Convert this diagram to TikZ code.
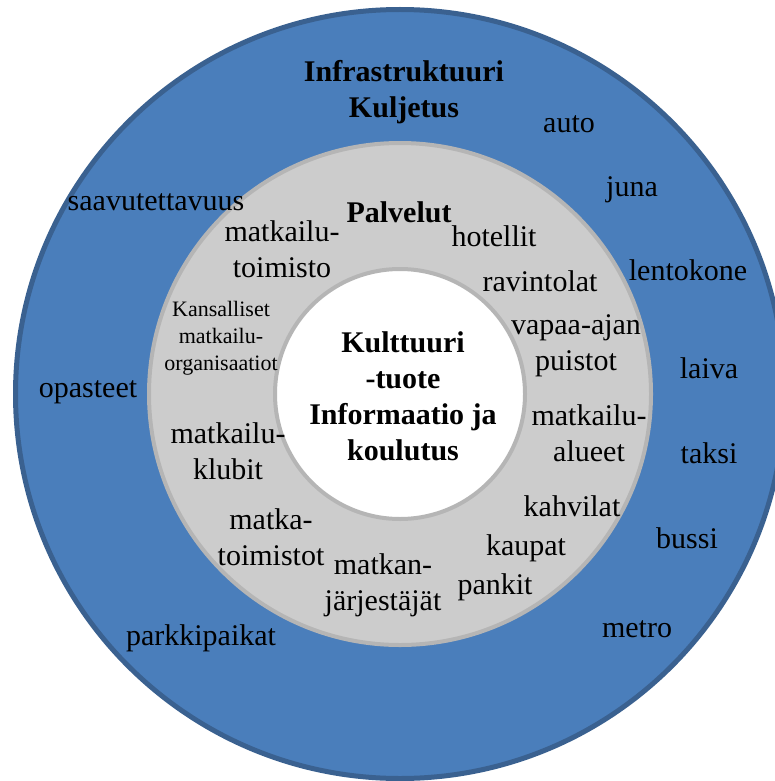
\documentclass[tikz,border=0pt]{standalone}
\usepackage{fontspec}
\setmainfont{Liberation Serif}
\definecolor{outerfill}{HTML}{4A7EBB}
\definecolor{outerline}{HTML}{3A6190}
\definecolor{midfill}{HTML}{CCCCCC}
\definecolor{midline}{HTML}{B5B5B5}
\begin{document}
\begin{tikzpicture}[x=1pt,y=-1pt,
  ring/.style={circle, inner sep=0pt, outer sep=0pt},
  lbl/.style={inner sep=0pt, align=center, font=\fontsize{30}{36}\selectfont},
  bl/.style={inner sep=0pt, align=center, font=\fontsize{30}{36}\selectfont\bfseries},
  sm/.style={inner sep=0pt, align=center, font=\fontsize{22}{27}\selectfont}]
\useasboundingbox (0,0) rectangle (774,781);
\node[ring, draw=outerline, fill=outerfill, line width=5pt, minimum size=769pt] (outer) at (400,394) {};
\node[ring, draw=midline, fill=midfill, line width=4pt, minimum size=502pt] (mid) at (400,394) {};
\node[ring, draw=midline, fill=white, line width=4pt, minimum size=250pt] (inner) at (400,394) {};
% outer ring
\node[bl] (infra) at (404,92) {Infrastruktuuri\\Kuljetus};
\node[lbl] (auto) at (569,124) {auto};
\node[lbl] (juna) at (632,190) {juna};
\node[lbl] (lento) at (688,270) {lentokone};
\node[lbl] (laiva) at (709,368) {laiva};
\node[lbl] (taksi) at (709,453) {taksi};
\node[lbl] (bussi) at (687,538) {bussi};
\node[lbl] (metro) at (637,629) {metro};
\node[lbl] (parkki) at (201,638) {parkkipaikat};
\node[lbl] (opast) at (88,392) {opasteet};
\node[lbl] (saavu) at (156,202) {saavutettavuus};
% middle ring
\node[bl] (palv) at (399,212) {Palvelut};
\node[lbl] (hotel) at (494,236) {hotellit};
\node[lbl] (ravin) at (540,281) {ravintolat};
\node[lbl] (vapaa) at (576,346) {vapaa-ajan\\puistot};
\node[lbl] (alue) at (589,433) {matkailu-\\alueet};
\node[lbl] (kahvi) at (572,506) {kahvilat};
\node[lbl] (kaupat) at (526,548) {kaupat};
\node[lbl] (pankit) at (495,587) {pankit};
\node[lbl] (jarj) at (383,585) {matkan-\\järjestäjät};
\node[lbl] (matkat) at (271,537) {matka-\\toimistot};
\node[lbl] (klubit) at (228,451) {matkailu-\\klubit};
\node[sm] (kans) at (221,338) {Kansalliset\\matkailu-\\organisaatiot};
\node[lbl] (mtoim) at (282,249) {matkailu-\\toimisto};
% center
\node[bl] (kult) at (403,396) {Kulttuuri\\-tuote\\Informaatio ja\\koulutus};
\end{tikzpicture}
\end{document}
